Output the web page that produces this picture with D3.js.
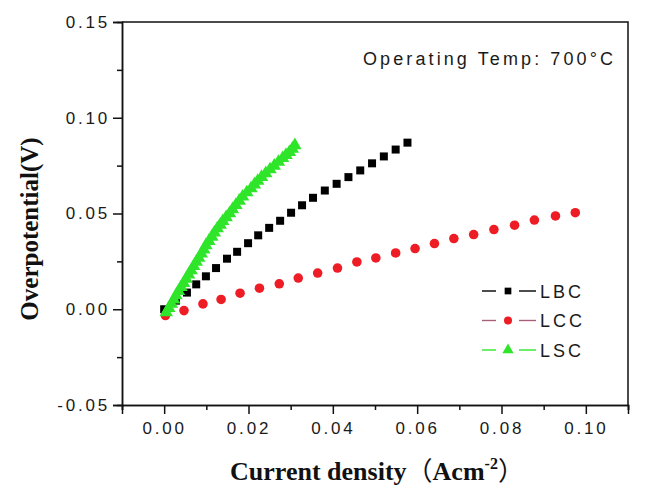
<!DOCTYPE html>
<html lang="en">
    <head>
        <meta charset="UTF-8" />
        <title>Overpotential</title>
        <style>
            body { margin: 0; background: #fff; }
            .tick text { font-family: "Liberation Sans", Arial, sans-serif; font-size: 17px; letter-spacing: 2.8px; fill: #1a1a1a; }
            .domain, .tick line { stroke: #111; stroke-width: 1.5; }
        </style>
    </head>
    <body>
        <svg class="chart" width="649" height="496"></svg>

        <script src="https://d3js.org/d3.v7.min.js"></script>
        <script>
            // LBC (black squares)
            const lbcX = [0.0000, 0.0028, 0.0054, 0.0076, 0.0099, 0.0123, 0.0149, 0.0173, 0.0199, 0.0223, 0.0249, 0.0275,
                          0.0301, 0.0327, 0.0353, 0.0381, 0.0409, 0.0437, 0.0465, 0.0493, 0.0521, 0.0549, 0.0577]
            const lbcY = [0.0000, 0.0045, 0.0087, 0.0130, 0.0172, 0.0215, 0.0264, 0.0300, 0.0345, 0.0386, 0.0425, 0.0462,
                          0.0504, 0.0543, 0.0582, 0.0620, 0.0655, 0.0690, 0.0725, 0.0762, 0.0798, 0.0834, 0.0870]

            // LCC (red circles)
            const lccX = [0.0003, 0.0047, 0.0092, 0.0135, 0.0180, 0.0226, 0.0273, 0.0318, 0.0364, 0.0411, 0.0457,
                          0.0502, 0.0549, 0.0595, 0.0641, 0.0687, 0.0734, 0.0782, 0.0831, 0.0878, 0.0928, 0.0975]
            const lccY = [-0.0033, -0.0007, 0.0028, 0.0051, 0.0084, 0.0110, 0.0133, 0.0163, 0.0189, 0.0215, 0.0247,
                          0.0268, 0.0294, 0.0317, 0.0343, 0.0369, 0.0390, 0.0416, 0.0439, 0.0466, 0.0487, 0.0504]

            // LSC (green triangles)
            const lscX = [0.0005, 0.0011, 0.0017, 0.0023, 0.0028, 0.0034, 0.0040, 0.0046, 0.0052, 0.0058, 0.0064, 0.0070,
                          0.0076, 0.0082, 0.0088, 0.0094, 0.0099, 0.0106, 0.0113, 0.0119, 0.0126, 0.0133, 0.0139, 0.0147,
                          0.0155, 0.0162, 0.0170, 0.0178, 0.0186, 0.0196, 0.0206, 0.0214, 0.0222, 0.0231, 0.0241, 0.0251,
                          0.0261, 0.0271, 0.0281, 0.0289, 0.0297, 0.0304, 0.0310]
            const lscY = [-0.0016, 0.0006, 0.0028, 0.0050, 0.0072, 0.0094, 0.0115, 0.0137, 0.0159, 0.0181, 0.0203, 0.0225,
                          0.0247, 0.0268, 0.0290, 0.0312, 0.0334, 0.0356, 0.0378, 0.0400, 0.0422, 0.0441, 0.0460, 0.0480,
                          0.0500, 0.0522, 0.0544, 0.0566, 0.0588, 0.0610, 0.0631, 0.0651, 0.0670, 0.0690, 0.0710, 0.0730,
                          0.0749, 0.0769, 0.0789, 0.0805, 0.0820, 0.0838, 0.0856]

            const xTicks = [0.00, 0.02, 0.04, 0.06, 0.08, 0.10]
            const yTicks = [-0.05, 0.00, 0.05, 0.10, 0.15]

            const series = [
              {name: 'LBC', xs: lbcX, ys: lbcY, color: '#000000', line: '#000000', shape: d3.symbolSquare, size: 64},
              {name: 'LCC', xs: lccX, ys: lccY, color: '#ee1c24', line: '#a8607a', shape: d3.symbolCircle, size: 72},
              {name: 'LSC', xs: lscX, ys: lscY, color: '#2fe52a', line: '#2fe52a', shape: d3.symbolTriangle, size: 78}
            ]

            const pLeft = 122, pRight = 628, pTop = 22, pBottom = 405

            const x = d3.scaleLinear().domain([-0.01, 0.11]).range([pLeft, pRight])
            const y = d3.scaleLinear().domain([-0.05, 0.15]).range([pBottom, pTop])

            const fmt = d => d3.format('.2f')(d).replace('\u2212', '-')

            const svg = d3.select('.chart')

            // frame (top + right)
            svg.append('path')
              .attr('d', `M${pLeft},${pTop}H${pRight}V${pBottom}`)
              .attr('fill', 'none')
              .attr('stroke', '#111')
              .attr('stroke-width', 1.5)

            // minor ticks
            svg.append('g')
              .attr('transform', `translate(0,${pBottom})`)
              .call(d3.axisBottom(x).tickValues([-0.01, 0.01, 0.03, 0.05, 0.07, 0.09, 0.11]).tickSize(5).tickFormat(''))
            svg.append('g')
              .attr('transform', `translate(${pLeft},0)`)
              .call(d3.axisLeft(y).tickValues([-0.025, 0.025, 0.075, 0.125]).tickSize(5).tickFormat(''))

            // major ticks
            svg.append('g')
              .attr('transform', `translate(0,${pBottom})`)
              .call(d3.axisBottom(x).tickValues(xTicks).tickSize(9).tickPadding(8).tickFormat(fmt))
            svg.append('g')
              .attr('transform', `translate(${pLeft},0)`)
              .call(d3.axisLeft(y).tickValues(yTicks).tickSize(9).tickPadding(3).tickFormat(fmt))

            // data points
            series.forEach(s => {
              svg.append('g')
                .selectAll('path')
                .data(s.xs.map((v, i) => [v, s.ys[i]]))
                .join('path')
                .attr('transform', d => `translate(${x(d[0])},${y(d[1])})`)
                .attr('d', d3.symbol(s.shape, s.size))
                .attr('fill', s.color)
            })

            // legend
            const legend = svg.append('g').attr('transform', 'translate(482,291)')
            series.forEach((s, i) => {
              const g = legend.append('g').attr('transform', `translate(0,${i * 29.5})`)
              g.append('line').attr('x1', 0).attr('x2', 14).attr('stroke', s.line).attr('stroke-width', 1.4)
              g.append('line').attr('x1', 37).attr('x2', 54).attr('stroke', s.line).attr('stroke-width', 1.4)
              g.append('path').attr('transform', 'translate(26,0)').attr('d', d3.symbol(s.shape, s.size * 0.7)).attr('fill', s.color)
              g.append('text')
                .attr('x', 58).attr('y', 6.5)
                .attr('font-family', '"Liberation Sans", Arial, sans-serif')
                .attr('font-size', 18).attr('letter-spacing', 3)
                .attr('fill', '#1a1a1a')
                .text(s.name)
            })

            // annotation
            svg.append('text')
              .attr('x', 363).attr('y', 65)
              .attr('font-family', '"Liberation Sans", Arial, sans-serif')
              .attr('font-size', 18).attr('letter-spacing', 3.1)
              .attr('fill', '#1a1a1a')
              .text('Operating Temp: 700°C')

            // axis titles
            svg.append('text')
              .attr('transform', 'translate(38,229) rotate(-90)')
              .attr('text-anchor', 'middle')
              .attr('font-family', '"Liberation Serif", "Times New Roman", serif')
              .attr('font-weight', 'bold').attr('font-size', 25)
              .attr('fill', '#111')
              .text('Overpotential(V)')

            const xt = svg.append('text')
              .attr('x', 377).attr('y', 480)
              .attr('text-anchor', 'middle')
              .attr('font-family', '"Liberation Serif", "Times New Roman", serif')
              .attr('font-weight', 'bold').attr('font-size', 26)
              .attr('fill', '#111')
            xt.append('tspan').text('Current density')
            xt.append('tspan').attr('font-family', '"Noto Sans CJK SC"').attr('font-weight', 'normal').text('（')
            xt.append('tspan').text('Acm')
            xt.append('tspan').attr('dy', -11).attr('font-size', 16).text('-2')
            xt.append('tspan').attr('dy', 11).attr('font-family', '"Noto Sans CJK SC"').attr('font-weight', 'normal').text('）')
        </script>
    </body>
</html>
